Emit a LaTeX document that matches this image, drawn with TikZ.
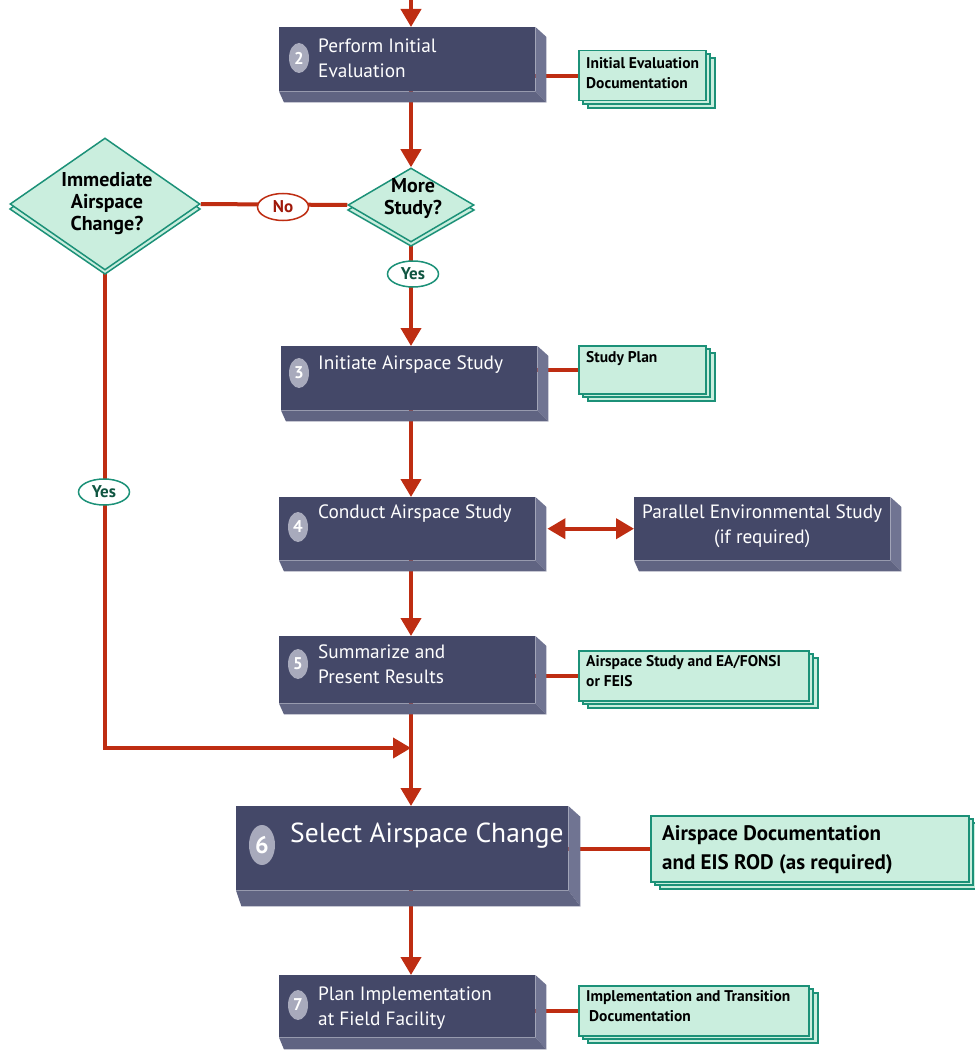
\documentclass[tikz,border=0pt]{standalone}
\usepackage{fontspec}
\setmainfont{PT Sans}
\usetikzlibrary{calc,arrows.meta,shapes.geometric,backgrounds}
\definecolor{navy}{RGB}{68,72,104}
\definecolor{navyside}{RGB}{112,116,146}
\definecolor{navybot}{RGB}{96,100,130}
\definecolor{numgray}{RGB}{168,170,188}
\definecolor{arrowred}{RGB}{190,45,18}
\definecolor{nored}{RGB}{160,25,10}
\definecolor{docfill}{RGB}{202,238,222}
\definecolor{docline}{RGB}{28,145,120}
\definecolor{yesgreen}{RGB}{15,85,65}
\tikzset{
 mainbox/.style={rectangle, fill=navy, inner sep=0, anchor=north west},
 boxtext/.style={anchor=north west, inner sep=0, text=white, align=left, font=\fontsize{19.3}{25}\selectfont},
 numcirc/.style={ellipse, fill=numgray, inner sep=0, minimum width=20, minimum height=30, text=white, font=\bfseries\fontsize{17}{17}\selectfont},
 docsheet/.style={fill=docfill, draw=docline, line width=1.5},
 doc/.style={rectangle, docsheet, inner sep=0, anchor=north west},
 doctext/.style={anchor=north west, inner sep=0, align=left, font=\bfseries\fontsize{15.5}{20.5}\selectfont},
 decision/.style={diamond, fill=docfill, draw=docline, line width=1.5, inner sep=0},
 dectext/.style={inner sep=0, align=center, font=\bfseries\fontsize{20}{22}\selectfont},
 flow/.style={draw=arrowred, line width=4},
 arr/.style={flow, -{Triangle[width=20pt,length=18pt]}},
 darr/.style={flow, {Triangle[width=20pt,length=18pt]}-{Triangle[width=20pt,length=18pt]}},
 nooval/.style={ellipse, fill=white, draw=arrowred, line width=1.5, minimum width=51, minimum height=27, inner sep=0, text=nored, font=\bfseries\fontsize{17}{17}\selectfont},
 yesoval/.style={ellipse, fill=white, draw=docline, line width=1.5, minimum width=51, minimum height=26, inner sep=0, text=yesgreen, font=\bfseries\fontsize{17}{17}\selectfont},
}
\newcommand\bevel[3]{%
 \fill[navyside] (#1.north east) -- ++(#2,#2*0.9) -- ($(#1.south east)+(#2,#3)$) -- (#1.south east) -- cycle;
 \fill[navybot] (#1.south west) -- (#1.south east) -- ($(#1.south east)+(#2,#3)$) -- ($(#1.south west)+(#2*0.45,#3)$) -- cycle;
}
\newcommand\docstack[5]{%
 \path[docsheet] (#2+10,#3+8) rectangle ++(#4,#5);
 \path[docsheet] (#2+5,#3+4) rectangle ++(#4,#5);
 \node[doc, minimum width=#4, minimum height=#5] (#1) at (#2,#3) {};
}
\begin{document}
\begin{tikzpicture}[x=1pt,y=-1pt]
\useasboundingbox (0,0) rectangle (974,1051);
\coordinate (spine) at (411,0);
\coordinate (entry) at (411,0);
\coordinate (join) at (411,748);

% main boxes
\node[mainbox, minimum width=256, minimum height=64] (b2) at (279,27) {};
\bevel{b2}{11}{11}
\node[mainbox, minimum width=256, minimum height=64] (b3) at (281,346) {};
\bevel{b3}{11}{11}
\node[mainbox, minimum width=256, minimum height=63] (b4) at (279,497) {};
\bevel{b4}{11}{11}
\node[mainbox, minimum width=256, minimum height=63] (par) at (634,497) {};
\bevel{par}{11}{11}
\node[mainbox, minimum width=256, minimum height=67] (b5) at (279,636) {};
\bevel{b5}{11}{11}
\node[mainbox, minimum width=332, minimum height=84] (b6) at (236,806) {};
\bevel{b6}{12}{16}
\node[mainbox, minimum width=256, minimum height=62] (b7) at (279,975) {};
\bevel{b7}{11}{12}

% number circles
\node[numcirc] (n2) at ($(b2.north west)+(20,31)$) {2};
\node[numcirc] (n3) at ($(b3.north west)+(18,27)$) {3};
\node[numcirc] (n4) at ($(b4.north west)+(19,30)$) {4};
\node[numcirc] (n5) at ($(b5.north west)+(19,28)$) {5};
\node[numcirc, minimum width=26, minimum height=40, font=\bfseries\fontsize{24}{24}\selectfont] (n6) at ($(b6.north west)+(26,39)$) {6};
\node[numcirc] (n7) at ($(b7.north west)+(19,30)$) {7};

% box texts
\node[boxtext] (t2) at ($(b2.north west)+(39,12)$) {Perform Initial\\Evaluation};
\node[boxtext] (t3) at ($(b3.north west)+(37,10)$) {Initiate Airspace Study};
\node[boxtext] (t4) at ($(b4.north west)+(39,8)$) {Conduct Airspace Study};
\node[boxtext, anchor=north, align=center] (tp) at ($(par.north)+(0,8)$) {Parallel Environmental Study\\(if required)};
\node[boxtext] (t5) at ($(b5.north west)+(39,9)$) {Summarize and\\Present Results};
\node[boxtext, font=\fontsize{27.5}{30}\selectfont] (t6) at ($(b6.north west)+(54,17)$) {Select Airspace Change};
\node[boxtext] (t7) at ($(b7.north west)+(39,12)$) {Plan Implementation\\at Field Facility};

% documents
\docstack{d2}{578}{50}{127}{50}
\docstack{d3}{578}{345}{127}{48}
\docstack{d5}{578}{650}{230}{50}
\docstack{d6}{650}{815}{318}{66}
\docstack{d7}{578}{985}{230}{50}
\node[doctext] (dt2) at ($(d2.north west)+(8,7)$) {Initial Evaluation\\Documentation};
\node[doctext] (dt3) at ($(d3.north west)+(8,6)$) {Study Plan};
\node[doctext] (dt5) at ($(d5.north west)+(8,5)$) {Airspace Study and EA/FONSI\\or FEIS};
\node[doctext, font=\bfseries\fontsize{21}{29}\selectfont] (dt6) at ($(d6.north west)+(12,10)$) {Airspace Documentation\\and EIS ROD (as required)};
\node[doctext] (dt7) at ($(d7.north west)+(8,5)$) {Implementation and Transition\\\hspace{3pt}Documentation};

% decisions
\path[fill=docfill, draw=docline, line width=1.5] (10,209) -- (105,141) -- (200,209) -- (105,274) -- cycle;
\node[decision, minimum width=190, minimum height=132] (imm) at (105,204) {};
\node[dectext] (immt) at (107,204) {Immediate\\Airspace\\Change?};
\path[fill=docfill, draw=docline, line width=1.5] (348,210) -- (411,172) -- (474,210) -- (411,246) -- cycle;
\node[decision, minimum width=126, minimum height=74] (ms) at (411,205) {};
\node[dectext] (mst) at (413,199) {More\\Study?};

% connectors
\begin{scope}[on background layer]
\draw[arr] (entry) -- (b2.north -| spine);
\draw[arr] (b2.south -| spine) -- (ms.north);
\draw[flow] (d2.west) -- (d2.west -| b2.east);
\draw[flow] (ms.west) -- (imm.east);
\draw[arr] (ms.south) -- (b3.north -| spine);
\draw[flow] (d3.west) -- (d3.west -| b3.east);
\draw[arr] (b3.south -| spine) -- (b4.north -| spine);
\draw[arr] (b4.south -| spine) -- (b5.north -| spine);
\draw[flow] (d5.west) -- (d5.west -| b5.east);
\draw[arr] (b5.south -| spine) -- (b6.north -| spine);
\draw[arr] (imm.south) |- (join);
\draw[flow] (d6.west) -- (d6.west -| b6.east);
\draw[arr] (b6.south -| spine) -- (b7.north -| spine);
\draw[flow] (d7.west) -- (d7.west -| b7.east);
\end{scope}
\draw[darr] ($(b4.east)+(12,0)$) -- (par.west);

% labels
\node[nooval] (no) at (283,207) {No};
\node[yesoval] (yes1) at (413,274) {Yes};
\node[yesoval] (yes2) at (104,492) {Yes};
\end{tikzpicture}
\end{document}
